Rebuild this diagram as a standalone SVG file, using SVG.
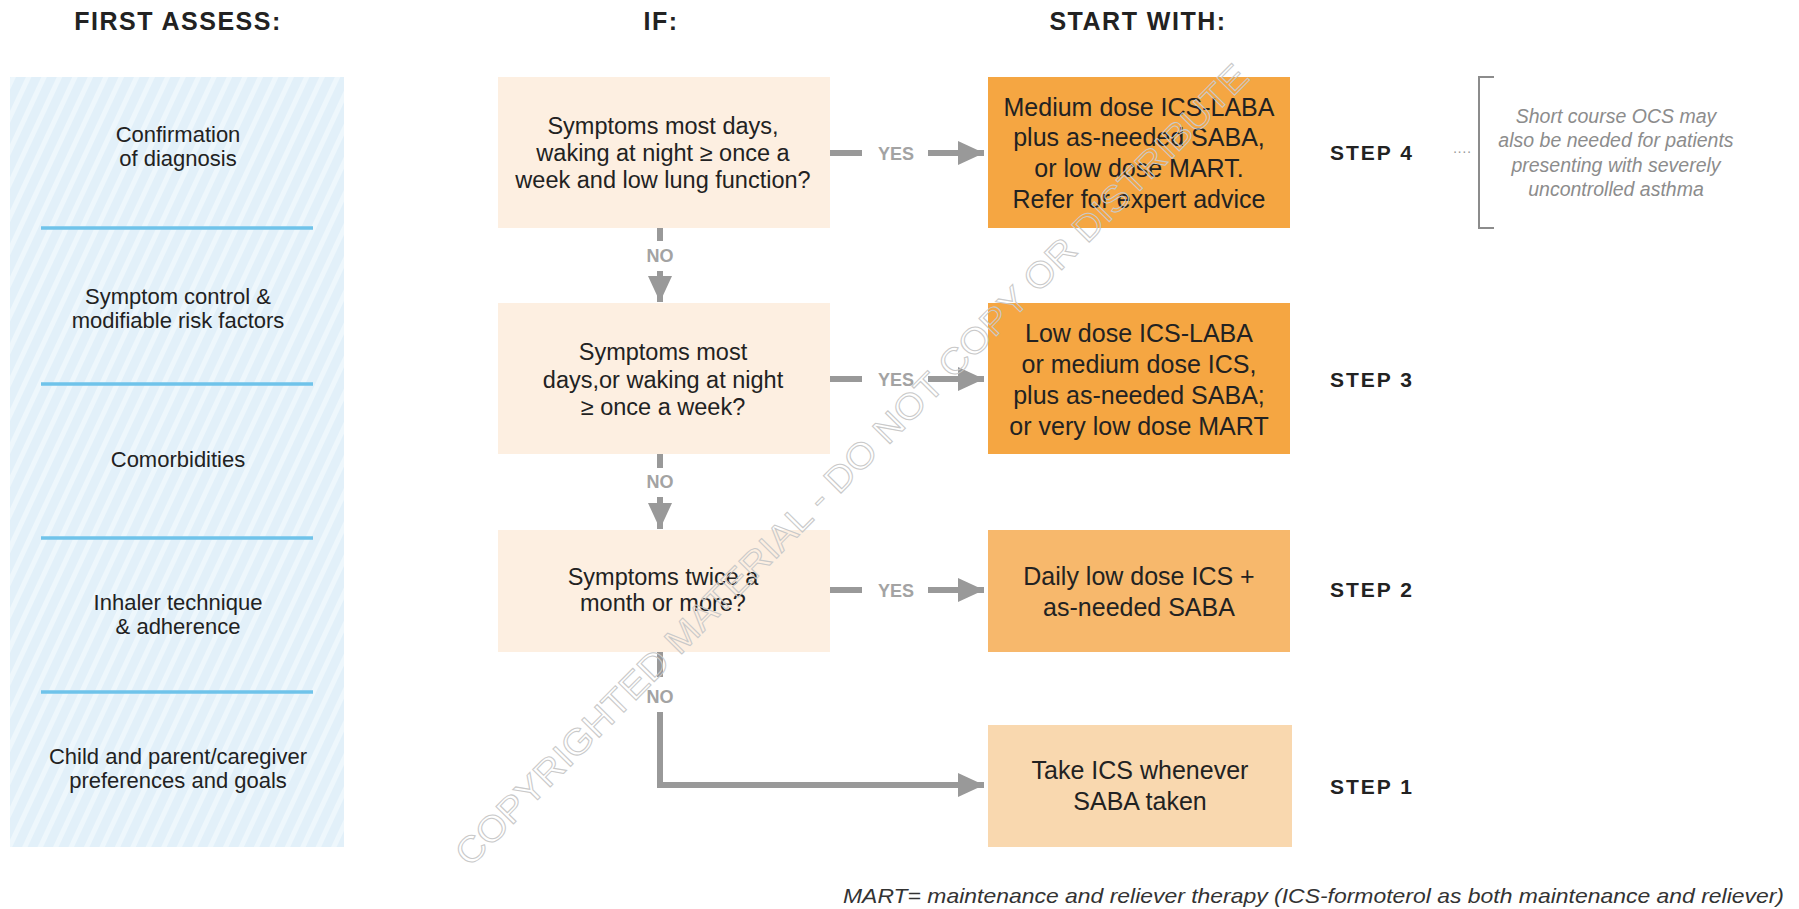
<svg xmlns="http://www.w3.org/2000/svg" width="1799" height="909" viewBox="0 0 1799 909">
<defs>
<style>
.h{font-family:"Liberation Sans",Arial,sans-serif;font-weight:bold;font-size:25px;fill:#222;text-anchor:middle;letter-spacing:1.5px}
.lt{font-family:"Liberation Sans",Arial,sans-serif;font-size:22px;fill:#222;text-anchor:middle}
.dt{font-family:"Liberation Sans",Arial,sans-serif;font-size:23.5px;fill:#222;text-anchor:middle}
.ot{font-family:"Liberation Sans",Arial,sans-serif;font-size:25px;fill:#222;text-anchor:middle}
.st{font-family:"Liberation Sans",Arial,sans-serif;font-weight:bold;font-size:21px;fill:#222;text-anchor:middle;letter-spacing:2px}
.yn{font-family:"Liberation Sans",Arial,sans-serif;font-weight:bold;font-size:18px;fill:#a3a3a3;text-anchor:middle}
.it{font-family:"Liberation Sans",Arial,sans-serif;font-style:italic;font-size:19.5px;fill:#8c8c8c;text-anchor:middle}
.ft{font-family:"Liberation Sans",Arial,sans-serif;font-style:italic;font-size:21px;fill:#333}
.c{stroke:#999;stroke-width:6;fill:none}
.div{stroke:#6fc3ea;stroke-width:3.5}
.dec{fill:#fdefe1}
.wm{font-family:"Liberation Sans",Arial,sans-serif;font-size:36px;fill:none;stroke:#c9c9c9;stroke-width:1}
</style>
<pattern id="stripes" width="14" height="14" patternUnits="userSpaceOnUse" patternTransform="rotate(25)">
<rect width="14" height="14" fill="#e2f0f9"/>
<rect x="0" y="0" width="5" height="14" fill="#eef7fc"/>
</pattern>
<marker id="ah" markerUnits="userSpaceOnUse" markerWidth="26" markerHeight="24" refX="26" refY="12" orient="auto">
<path d="M0,0 L26,12 L0,24 z" fill="#999"/>
</marker>
</defs>
<rect width="1799" height="909" fill="#fff"/>

<g id="headings">
<text class="h" x="178" y="30">FIRST ASSESS:</text>
<text class="h" x="661" y="30">IF:</text>
<text class="h" x="1138" y="30">START WITH:</text>
</g>

<g id="assess-panel">
<rect x="10" y="77" width="334" height="770" fill="url(#stripes)"/>
<line class="div" x1="41" y1="228" x2="313" y2="228"/>
<line class="div" x1="41" y1="384" x2="313" y2="384"/>
<line class="div" x1="41" y1="538" x2="313" y2="538"/>
<line class="div" x1="41" y1="692" x2="313" y2="692"/>
<text class="lt" x="178" y="142">Confirmation</text>
<text class="lt" x="178" y="166">of diagnosis</text>
<text class="lt" x="178" y="304">Symptom control &amp;</text>
<text class="lt" x="178" y="328">modifiable risk factors</text>
<text class="lt" x="178" y="467">Comorbidities</text>
<text class="lt" x="178" y="610">Inhaler technique</text>
<text class="lt" x="178" y="634">&amp; adherence</text>
<text class="lt" x="178" y="764">Child and parent/caregiver</text>
<text class="lt" x="178" y="788">preferences and goals</text>
</g>

<g id="q1">
<rect class="dec" x="498" y="77" width="332" height="151"/>
<text class="dt" x="663" y="134">Symptoms most days,</text>
<text class="dt" x="663" y="161">waking at night ≥ once a</text>
<text class="dt" x="663" y="188">week and low lung function?</text>
</g>
<g id="q2">
<rect class="dec" x="498" y="303" width="332" height="151"/>
<text class="dt" x="663" y="360">Symptoms most</text>
<text class="dt" x="663" y="388">days,or waking at night</text>
<text class="dt" x="663" y="415">≥ once a week?</text>
</g>
<g id="q3">
<rect class="dec" x="498" y="530" width="332" height="122"/>
<text class="dt" x="663" y="585">Symptoms twice a</text>
<text class="dt" x="663" y="611">month or more?</text>
</g>

<g id="step4">
<rect x="988" y="77" width="302" height="151" fill="#f5a642"/>
<text class="ot" x="1139" y="116">Medium dose ICS-LABA</text>
<text class="ot" x="1139" y="146">plus as-needed SABA,</text>
<text class="ot" x="1139" y="177">or low dose MART.</text>
<text class="ot" x="1139" y="208">Refer for expert advice</text>
<text class="st" x="1372" y="160">STEP 4</text>
</g>
<g id="step3">
<rect x="988" y="303" width="302" height="151" fill="#f5a642"/>
<text class="ot" x="1139" y="342">Low dose ICS-LABA</text>
<text class="ot" x="1139" y="373">or medium dose ICS,</text>
<text class="ot" x="1139" y="404">plus as-needed SABA;</text>
<text class="ot" x="1139" y="435">or very low dose MART</text>
<text class="st" x="1372" y="387">STEP 3</text>
</g>
<g id="step2">
<rect x="988" y="530" width="302" height="122" fill="#f7b86c"/>
<text class="ot" x="1139" y="585">Daily low dose ICS +</text>
<text class="ot" x="1139" y="616">as-needed SABA</text>
<text class="st" x="1372" y="597">STEP 2</text>
</g>
<g id="step1">
<rect x="988" y="725" width="304" height="122" fill="#f9d8af"/>
<text class="ot" x="1140" y="779">Take ICS whenever</text>
<text class="ot" x="1140" y="810">SABA taken</text>
<text class="st" x="1372" y="794">STEP 1</text>
</g>

<g id="ocs-note">
<text x="1462" y="156" font-family="Liberation Sans, Arial, sans-serif" font-size="14" fill="#999" text-anchor="middle">····</text>
<path d="M1494,77 H1479 V228 H1494" fill="none" stroke="#8c8c8c" stroke-width="2"/>
<text class="it" x="1616" y="123">Short course OCS may</text>
<text class="it" x="1616" y="147">also be needed for patients</text>
<text class="it" x="1616" y="172">presenting with severely</text>
<text class="it" x="1616" y="196">uncontrolled asthma</text>
</g>

<g id="connectors">
<line class="c" x1="830" y1="153" x2="862" y2="153"/>
<line class="c" x1="928" y1="153" x2="984" y2="153" marker-end="url(#ah)"/>
<text class="yn" x="896" y="160">YES</text>
<line class="c" x1="830" y1="379" x2="862" y2="379"/>
<line class="c" x1="928" y1="379" x2="984" y2="379" marker-end="url(#ah)"/>
<text class="yn" x="896" y="386">YES</text>
<line class="c" x1="830" y1="590" x2="862" y2="590"/>
<line class="c" x1="928" y1="590" x2="984" y2="590" marker-end="url(#ah)"/>
<text class="yn" x="896" y="597">YES</text>

<line class="c" x1="660" y1="228" x2="660" y2="241"/>
<text class="yn" x="660" y="262">NO</text>
<line class="c" x1="660" y1="271" x2="660" y2="302" marker-end="url(#ah)"/>
<line class="c" x1="660" y1="454" x2="660" y2="468"/>
<text class="yn" x="660" y="488">NO</text>
<line class="c" x1="660" y1="497" x2="660" y2="529" marker-end="url(#ah)"/>
<line class="c" x1="660" y1="652" x2="660" y2="677"/>
<text class="yn" x="660" y="703">NO</text>
<path class="c" d="M660,712 V785 H984" marker-end="url(#ah)"/>
</g>

<g id="footer">
<text class="ft" x="843" y="903" textLength="941" lengthAdjust="spacingAndGlyphs">MART= maintenance and reliever therapy (ICS-formoterol as both maintenance and reliever)</text>
</g>

<g id="watermark">
<text class="wm" transform="translate(470,868) rotate(-45.3)" textLength="1110" lengthAdjust="spacingAndGlyphs">COPYRIGHTED MATERIAL - DO NOT COPY OR DISTRIBUTE</text>
</g>
</svg>
